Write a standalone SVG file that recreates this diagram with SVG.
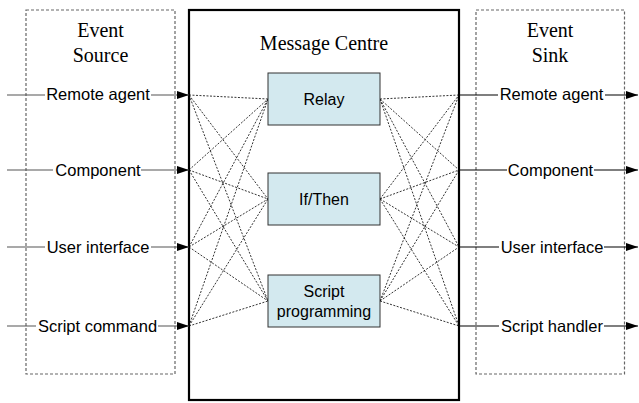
<svg xmlns="http://www.w3.org/2000/svg" width="639" height="403" viewBox="0 0 639 403">
<style>
.title{font-family:"Liberation Serif","Times New Roman",serif;font-size:20px;fill:#000;text-anchor:middle}
.lbl{font-family:"Liberation Sans",Arial,sans-serif;font-size:16.5px;fill:#000;text-anchor:middle}
.box{font-family:"Liberation Sans",Arial,sans-serif;font-size:16px;fill:#000;text-anchor:middle}
.dash{fill:none;stroke:#666;stroke-width:1.2;stroke-dasharray:3 2}
.proc{fill:#d3e9ef;stroke:#333;stroke-width:1}
.link{fill:none;stroke:#000;stroke-width:0.8;stroke-dasharray:2 1.5}
.in{stroke:#555;stroke-width:1.2}
.out{stroke:#000;stroke-width:1.2}
.bg{fill:#fff}
</style>
<defs>
<marker id="arr" viewBox="0 0 12 8" refX="12" refY="4" markerWidth="12" markerHeight="8" markerUnits="userSpaceOnUse" orient="auto">
<path d="M0,0 L12,4 L0,8 Z" fill="#000"/>
</marker>
</defs>
<rect width="639" height="403" fill="#fff"/>

<g id="event-source">
<rect class="dash" x="26" y="10" width="149" height="364"/>
<text class="title" x="100.5" y="36.5">Event</text>
<text class="title" x="100.5" y="61.5">Source</text>
</g>

<g id="message-centre">
<rect x="189" y="10" width="270" height="390" fill="none" stroke="#000" stroke-width="2.2"/>
<text class="title" x="324" y="50">Message Centre</text>
</g>

<g id="event-sink">
<rect class="dash" x="476" y="10" width="148.5" height="364"/>
<text class="title" x="550" y="36.5">Event</text>
<text class="title" x="550" y="61.5">Sink</text>
</g>

<g id="connectors">
<line class="in" x1="7" y1="95" x2="189" y2="95" marker-end="url(#arr)"/>
<line class="in" x1="7" y1="170" x2="189" y2="170" marker-end="url(#arr)"/>
<line class="in" x1="7" y1="247" x2="189" y2="247" marker-end="url(#arr)"/>
<line class="in" x1="7" y1="326" x2="189" y2="326" marker-end="url(#arr)"/>
<line class="out" x1="459" y1="95" x2="638" y2="95" marker-end="url(#arr)"/>
<line class="out" x1="459" y1="170" x2="638" y2="170" marker-end="url(#arr)"/>
<line class="out" x1="459" y1="247" x2="638" y2="247" marker-end="url(#arr)"/>
<line class="out" x1="459" y1="326" x2="638" y2="326" marker-end="url(#arr)"/>
<path class="link" d="M189,95 L268,99 M189,170 L268,99 M189,247 L268,99 M189,326 L268,99
M189,95 L268,199 M189,170 L268,199 M189,247 L268,199 M189,326 L268,199
M189,95 L268,301 M189,170 L268,301 M189,247 L268,301 M189,326 L268,301"/>
<path class="link" d="M380,99 L459,95 M380,99 L459,170 M380,99 L459,247 M380,99 L459,326
M380,199 L459,95 M380,199 L459,170 M380,199 L459,247 M380,199 L459,326
M380,301 L459,95 M380,301 L459,170 M380,301 L459,247 M380,301 L459,326"/>
</g>

<g id="src-remote-agent"><rect class="bg" x="45" y="87" width="106" height="15"/><text class="lbl" x="98" y="100">Remote agent</text></g>
<g id="src-component"><rect class="bg" x="53" y="162" width="88" height="15"/><text class="lbl" x="98" y="175.5">Component</text></g>
<g id="src-user-interface"><rect class="bg" x="45" y="239" width="106" height="15"/><text class="lbl" x="98" y="252.5">User interface</text></g>
<g id="src-script-command"><rect class="bg" x="36" y="318" width="122" height="15"/><text class="lbl" x="97.5" y="331.5">Script command</text></g>

<g id="sink-remote-agent"><rect class="bg" x="498" y="87" width="107" height="15"/><text class="lbl" x="551.5" y="100">Remote agent</text></g>
<g id="sink-component"><rect class="bg" x="507" y="162" width="87" height="15"/><text class="lbl" x="550.5" y="175.5">Component</text></g>
<g id="sink-user-interface"><rect class="bg" x="499" y="239" width="105" height="15"/><text class="lbl" x="552" y="252.5">User interface</text></g>
<g id="sink-script-handler"><rect class="bg" x="499" y="318" width="105" height="15"/><text class="lbl" x="552" y="331.5">Script handler</text></g>

<g id="relay"><rect class="proc" x="268" y="73" width="112" height="52"/><text class="box" x="324" y="104.5">Relay</text></g>
<g id="if-then"><rect class="proc" x="268" y="173" width="112" height="52"/><text class="box" x="324" y="204.5">If/Then</text></g>
<g id="script-programming"><rect class="proc" x="268" y="275" width="112" height="52"/><text class="box" x="324" y="296.5">Script</text><text class="box" x="324" y="316.5">programming</text></g>
</svg>
